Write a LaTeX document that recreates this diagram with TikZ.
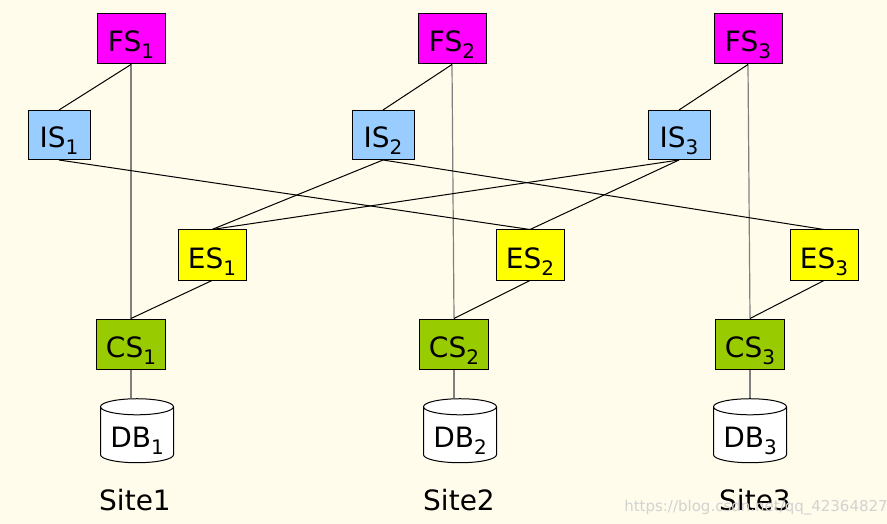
\documentclass[tikz,border=0pt]{standalone}
\usepackage{fontspec}
\setmainfont{DejaVu Sans}
\usepackage{xcolor}
\usepackage{tikz}
\usetikzlibrary{shapes.geometric}

\definecolor{bgcream}{HTML}{FFFCEB}
\definecolor{fsmagenta}{HTML}{FF00FF}
\definecolor{isblue}{HTML}{99CCFF}
\definecolor{esyellow}{HTML}{FFFF00}
\definecolor{csgreen}{HTML}{99CC00}
\newcommand{\lowsub}[1]{\raisebox{-7pt}[0pt][0pt]{\fontsize{20}{20}\selectfont #1}}

\begin{document}
\begin{tikzpicture}[x=1pt, y=-1pt,
	box/.style={draw=black, line width=1pt, minimum width=68pt, minimum height=50pt, inner sep=0pt, text height=26pt, text depth=0pt, font=\fontsize{28}{30}\selectfont},
	fsbox/.style={box, fill=fsmagenta},
	isbox/.style={box, fill=isblue, minimum width=62pt, minimum height=49pt},
	esbox/.style={box, fill=esyellow},
	csbox/.style={box, fill=csgreen, minimum width=69pt},
	dbcyl/.style={cylinder, shape border rotate=90, aspect=0.3, draw=black, line width=1pt, fill=white, minimum width=73pt, minimum height=64pt, inner sep=0pt, text height=25pt, text depth=0pt, font=\fontsize{28}{30}\selectfont},
	link/.style={line width=1pt},
	trunk/.style={line width=1.2pt, draw=gray}]
	\fill[bgcream] (0, 0) rectangle (887, 524);
	\useasboundingbox (0, 0) rectangle (887, 524);
	% global schemas
	\node[fsbox] (fs1) at (131, 39) {FS\lowsub{1}};
	\node[fsbox] (fs2) at (452, 39) {FS\lowsub{2}};
	\node[fsbox] (fs3) at (748, 39) {FS\lowsub{3}};
	% import schemas
	\node[isbox] (is1) at (59, 135) {IS\lowsub{1}};
	\node[isbox] (is2) at (383, 135) {IS\lowsub{2}};
	\node[isbox] (is3) at (679, 135) {IS\lowsub{3}};
	% export schemas
	\node[esbox] (es1) at (212, 255) {ES\lowsub{1}};
	\node[esbox] (es2) at (530, 255) {ES\lowsub{2}};
	\node[esbox] (es3) at (824, 255) {ES\lowsub{3}};
	% component schemas
	\node[csbox] (cs1) at (131, 344) {CS\lowsub{1}};
	\node[csbox] (cs2) at (454, 344) {CS\lowsub{2}};
	\node[csbox] (cs3) at (750, 344) {CS\lowsub{3}};
	% local databases
	\node[dbcyl] (db1) at (137, 435) {DB\lowsub{1}};
	\node[dbcyl] (db2) at (460, 435) {DB\lowsub{2}};
	\node[dbcyl] (db3) at (750, 435) {DB\lowsub{3}};
	\node[anchor=base, font=\fontsize{28}{30}\selectfont] (site1) at (135, 510) {Site1};
	\node[anchor=base, font=\fontsize{28}{30}\selectfont] (site2) at (459, 510) {Site2};
	\node[anchor=base, font=\fontsize{28}{30}\selectfont] (site3) at (755, 510) {Site3};
	\node[anchor=base, font=\fontsize{15}{16}\selectfont, text=gray!35] (mark) at (756, 511) {https://blog.csdn.net/qq\_42364827};
	% connectors
	\draw[trunk] (fs1.south) -- (cs1.north);
	\draw[trunk] (fs2.south) -- (cs2.north);
	\draw[trunk] (fs3.south) -- (cs3.north);
	\draw[link] (fs1.south) -- (is1.north);
	\draw[link] (fs2.south) -- (is2.north);
	\draw[link] (fs3.south) -- (is3.north);
	\draw[link] (is1.south) -- (es2.north);
	\draw[link] (is2.south) -- (es1.north);
	\draw[link] (is2.south) -- (es3.north);
	\draw[link] (is3.south) -- (es1.north);
	\draw[link] (is3.south) -- (es2.north);
	\draw[link] (es1.south) -- (cs1.north);
	\draw[link] (es2.south) -- (cs2.north);
	\draw[link] (es3.south) -- (cs3.north);
	\draw[trunk] (cs1.south) -- (cs1.south |- db1.north);
	\draw[trunk] (cs2.south) -- (cs2.south |- db2.north);
	\draw[trunk] (cs3.south) -- (cs3.south |- db3.north);
\end{tikzpicture}
\end{document}
